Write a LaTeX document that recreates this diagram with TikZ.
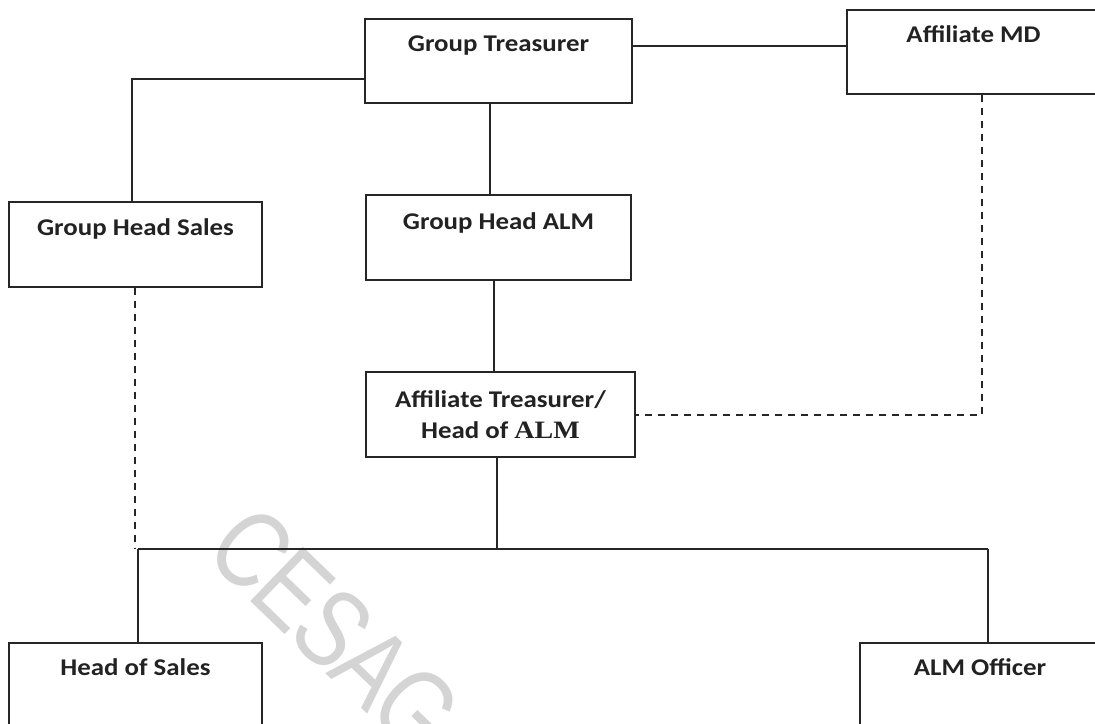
\documentclass[tikz,border=0pt]{standalone}
\usepackage{fontspec}
\setmainfont{Carlito}[FakeStretch=1.12]
\newfontfamily\serifalm{Liberation Serif}[FakeStretch=1.12]
\newfontfamily\wmfont{Liberation Sans}[FakeStretch=0.8,LetterSpace=-3]
\usetikzlibrary{calc}
\definecolor{linec}{HTML}{262626}
\definecolor{textc}{HTML}{222222}
\definecolor{wmc}{HTML}{D4D4D4}
\begin{document}
\begin{tikzpicture}[x=1pt,y=-1pt,
  box/.style={draw=linec, line width=2pt, inner sep=0pt},
  lbl/.style={font=\bfseries\fontsize{24}{31}\selectfont, text=textc, align=center, inner sep=0pt},
  conn/.style={draw=linec, line width=2pt},
  dashconn/.style={conn, dash pattern=on 7pt off 6pt},
  wm/.style={font=\wmfont\fontsize{110}{110}\selectfont, text=wmc, inner sep=0pt}]
\useasboundingbox (0,0) rectangle (1095,723);
\fill[white] (0,0) rectangle (1095,723);
% watermark
\node[wm, rotate=-44] (wmark) at (335,630) {CESAG};
% boxes
\node[box, minimum width=267pt, minimum height=84pt] (gt)   at (498.5,61) {};
\node[box, minimum width=253pt, minimum height=84pt] (amd)  at (973.5,52) {};
\node[box, minimum width=253pt, minimum height=85pt] (ghs)  at (135.5,244.5) {};
\node[box, minimum width=265pt, minimum height=85pt] (gha)  at (498.5,237.5) {};
\node[box, minimum width=269pt, minimum height=85pt] (ath)  at (500.5,414.5) {};
\node[box, minimum width=253pt, minimum height=100pt] (hos) at (135.5,693) {};
\node[box, minimum width=240pt, minimum height=100pt] (almo) at (980,693) {};
% labels
\node[lbl] (gtt)   at ($(gt.north)+(0,28)$)  {Group Treasurer};
\node[lbl] (amdt)  at ($(amd.north)+(0,25)$) {Affiliate MD};
\node[lbl] (ghst)  at ($(ghs.north)+(0,28)$) {Group Head Sales};
\node[lbl] (ghat)  at ($(gha.north)+(0,29)$) {Group Head ALM};
\node[lbl] (atht)  at ($(ath.north)+(0,44)$) {Affiliate Treasurer/\\Head of {\serifalm\fontsize{25}{31}\selectfont ALM}};
\node[lbl] (host)  at ($(hos.north)+(0,25)$) {Head of Sales};
\node[lbl] (almot) at ($(almo.north)+(0,25)$) {ALM Officer};
% connector points
\coordinate (busl) at (138,549);
\coordinate (busr) at (988,549);
\coordinate (busj) at (497,549);
\coordinate (mdc)  at (982,415);
\coordinate (ghsb) at ($(ghs.south)+(-0.5,0)$);
% solid connectors
\draw[conn] ($(gt.north west)+(0,61)$) -| ($(ghs.north)+(-3.5,0)$);
\draw[conn] ($(gt.north east)+(0,28)$) -- ($(amd.north west)+(0,37)$);
\draw[conn] ($(gt.south)+(-8.5,0)$) -- ($(gha.north)+(-8.5,0)$);
\draw[conn] ($(gha.south)+(-4.5,0)$) -- ($(ath.north)+(-6.5,0)$);
\draw[conn] (ath.south -| busj) -- (busj);
\draw[conn] (busl) -- (busr);
\draw[conn] (busl) -- (busl |- hos.north);
\draw[conn] (busr) -- (busr |- almo.north);
% dashed connectors
\draw[dashconn] (ghsb) -- (ghsb |- busl);
\draw[dashconn] (amd.south -| mdc) -- (mdc) -- (mdc -| ath.east);
\end{tikzpicture}
\end{document}
